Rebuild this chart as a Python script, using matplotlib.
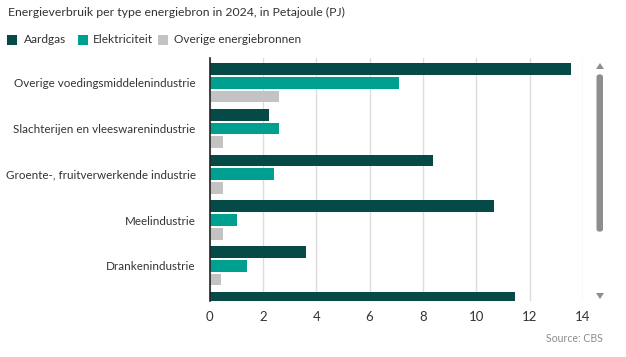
import matplotlib

matplotlib.use("Agg")
import matplotlib.pyplot as plt
import numpy as np
from matplotlib.patches import FancyBboxPatch, Polygon

plt.rcParams["font.family"] = ["Lato", "DejaVu Sans"]

categories = [
    "Overige voedingsmiddelenindustrie",
    "Slachterijen en vleeswarenindustrie",
    "Groente-, fruitverwerkende industrie",
    "Meelindustrie",
    "Drankenindustrie",
    "Zuivelindustrie",
]
series = ["Aardgas", "Elektriciteit", "Overige energiebronnen"]
aardgas = [13.55, 2.23, 8.39, 10.65, 3.60, 11.46]
elektriciteit = [7.10, 2.60, 2.40, 1.04, 1.42, np.nan]
overige = [2.60, 0.52, 0.52, 0.52, 0.43, np.nan]
xticks = [0, 2, 4, 6, 8, 10, 12, 14]

COLORS = ["#064a48", "#00a091", "#c3c3c3"]
TXT = "#333333"
BAR_H = 0.256
PITCH = 0.30

fig = plt.figure(figsize=(6.26, 3.57), dpi=100)
ax = fig.add_axes([0.3347, 0.156, 0.9313 - 0.3347, 0.6815])

y = np.arange(len(categories))
for k, (vals, col) in enumerate(zip([aardgas, elektriciteit, overige], COLORS)):
    ax.barh(y + (k - 1) * PITCH, vals, height=BAR_H, color=col, zorder=3)

ax.set_xticks(xticks)
ax.set_yticks(y)
ax.set_yticklabels(categories)
# set limits after the ticks: the view is scrolled, last group only partly shown
ax.set_xlim(0, 14)
ax.set_ylim(4.777, -0.544)
ax.tick_params(axis="both", length=0, labelsize=8.4, colors=TXT)
ax.tick_params(axis="y", pad=10)
ax.tick_params(axis="x", pad=7, labelsize=9.5)
ax.grid(axis="x", color="#dcdcdc", linewidth=1, zorder=0)
for s in ["top", "right", "bottom"]:
    ax.spines[s].set_visible(False)
ax.spines["left"].set_color("#222222")
ax.spines["left"].set_linewidth(1.2)
ax.spines["left"].set_zorder(4)

fig.text(8 / 626, 1 - 12 / 357, "Energieverbruik per type energiebron in 2024, in Petajoule (PJ)",
         fontsize=8.8, color=TXT, va="center", ha="left")

# legend row
sq_x = [7, 78, 158]
tx_x = [24, 93, 174]
for name, col, sx, tx in zip(series, COLORS, sq_x, tx_x):
    fig.patches.append(FancyBboxPatch((sx / 626, 1 - 44.5 / 357), 10 / 626, 10 / 357,
                                      boxstyle="square,pad=0", transform=fig.transFigure,
                                      facecolor=col, edgecolor="none"))
    fig.text(tx / 626, 1 - 39.5 / 357, name, fontsize=8.6, color=TXT,
             va="center", ha="left")

fig.text(603 / 626, 1 - 339 / 357, "Source: CBS", fontsize=7.6, color="#8c8c8c",
         ha="right", va="center")

# scrollbar
fig.patches.append(FancyBboxPatch((596.5 / 626, 1 - 232 / 357), 6.5 / 626, 158 / 357,
                                  boxstyle="round,pad=0,rounding_size=0.008",
                                  transform=fig.transFigure, facecolor="#8e8e8e",
                                  edgecolor="none"))
fig.patches.append(Polygon([(596 / 626, 1 - 69 / 357), (604 / 626, 1 - 69 / 357),
                            (600 / 626, 1 - 63 / 357)], closed=True,
                           transform=fig.transFigure, facecolor="#8e8e8e", edgecolor="none"))
fig.patches.append(Polygon([(596 / 626, 1 - 293 / 357), (604 / 626, 1 - 293 / 357),
                            (600 / 626, 1 - 299 / 357)], closed=True,
                           transform=fig.transFigure, facecolor="#8e8e8e", edgecolor="none"))

fig.savefig("out.png", dpi=100)
